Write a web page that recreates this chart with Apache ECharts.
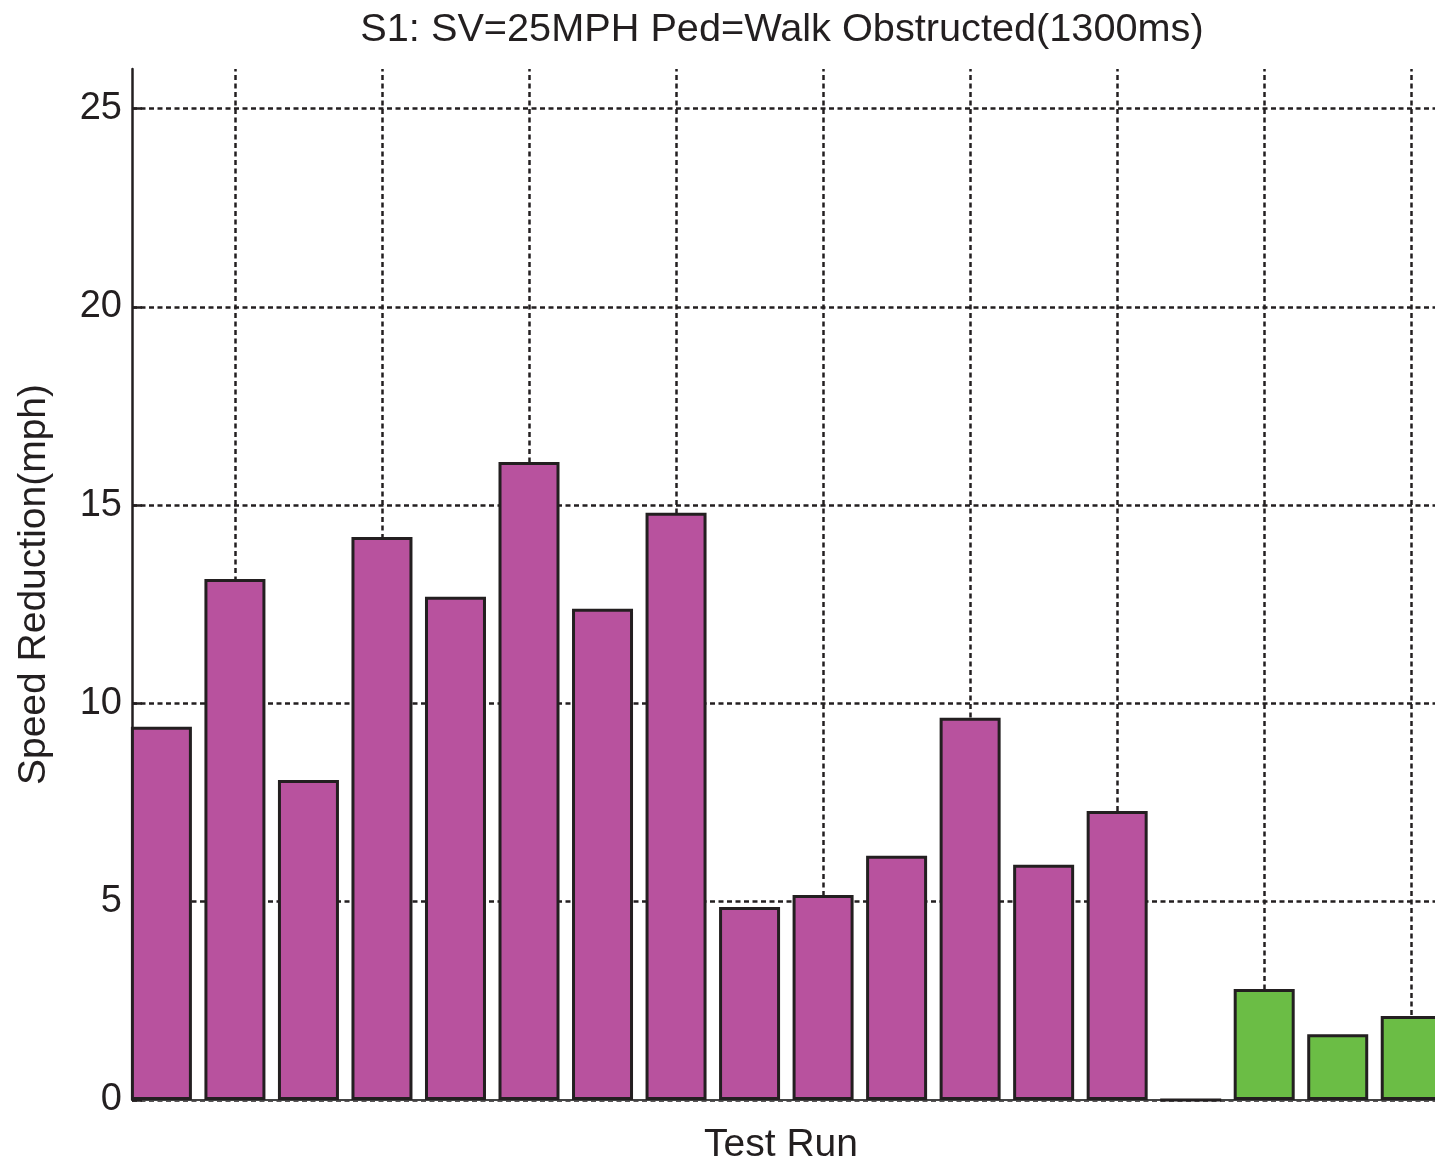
<!DOCTYPE html>
<html>
<head>
<meta charset="utf-8">
<title>S1: SV=25MPH Ped=Walk Obstructed(1300ms)</title>
<script src="https://cdn.jsdelivr.net/npm/echarts@6/dist/echarts.min.js"></script>
<style>
  html, body { margin: 0; padding: 0; background: #ffffff; }
  #chart { width: 1435px; height: 1165px; }
</style>
</head>
<body>
<div id="chart"></div>
<script>
// Test runs and the speed reduction measured in each (mph)
const runs = [1, 2, 3, 4, 5, 6, 7, 8, 9, 10, 11, 12, 13, 14, 15, 16, 17, 18];
const reduction = [9.41, 13.14, 8.07, 14.2, 12.69, 16.09, 12.39, 14.81, 4.87, 5.17, 6.16, 9.64, 5.93, 7.29, 0, 2.8, 1.66, 2.12];
// Run group: 'a' runs are drawn magenta, 'b' runs green
const runGroup = ['a', 'a', 'a', 'a', 'a', 'a', 'a', 'a', 'a', 'a', 'a', 'a', 'a', 'a', 'a', 'b', 'b', 'b'];
// Runs that carry a vertical grid line
const gridRuns = [2, 4, 6, 8, 10, 12, 14, 16, 18];
const yTicks = [0, 5, 10, 15, 20, 25];

const groupColor = { a: '#B8529E', b: '#6BBD45' };
const ink = '#231F20';
const font = '"Liberation Sans", Arial, Helvetica, sans-serif';

const barData = runs.map((r, i) => ({
  value: [r, reduction[i]],
  itemStyle: { color: groupColor[runGroup[i]] }
}));

const chart = echarts.init(document.getElementById('chart'), null, { renderer: 'canvas' });

chart.setOption({
  animation: false,
  backgroundColor: '#ffffff',
  title: {
    text: 'S1: SV=25MPH Ped=Walk Obstructed(1300ms)',
    left: 777,
    top: 5,
    textAlign: 'center',
    textStyle: { fontFamily: font, fontSize: 39.7, fontWeight: 'normal', color: ink }
  },
  grid: { left: 132, right: -13, top: 69, bottom: 65, containLabel: false, outerBoundsMode: 'none' },
  xAxis: {
    type: 'value',
    min: 0.6,
    max: 18.5,
    name: 'Test Run',
    nameLocation: 'middle',
    nameGap: 26,
    nameTextStyle: { fontFamily: font, fontSize: 39, color: ink, padding: [0, 18, 0, 0], verticalAlign: 'top' },
    axisLine: { show: true, lineStyle: { color: '#444', width: 2 } },
    axisTick: { show: false },
    axisLabel: { show: false },
    splitLine: { show: false }
  },
  yAxis: {
    type: 'value',
    min: 0,
    max: 26,
    interval: 5,
    name: 'Speed Reduction(mph)',
    nameLocation: 'middle',
    nameGap: 78,
    nameTextStyle: { fontFamily: font, fontSize: 39, color: ink },
    axisLine: { show: true, lineStyle: { color: ink, width: 2.5 } },
    axisTick: { show: true, inside: true, length: 10, lineStyle: { color: ink, width: 2.5 } },
    axisLabel: {
      fontFamily: font, fontSize: 38, color: ink, margin: 10,
      showMaxLabel: false,
      formatter: v => (yTicks.indexOf(v) >= 0 ? String(v) : '')
    },
    splitLine: { show: true, showMaxLine: false, lineStyle: { color: ink, width: 2.5, type: [5, 3.5] } }
  },
  series: [
    {
      // carrier for the vertical grid lines, kept under the bars
      type: 'line',
      data: [],
      z: 1,
      silent: true,
      markLine: {
        z: 1,
        silent: true,
        symbol: ['none', 'none'],
        label: { show: false },
        lineStyle: { color: ink, width: 2.5, type: [5, 3.5] },
        emphasis: { disabled: true },
        data: gridRuns.map(r => ({ xAxis: r }))
      }
    },
    {
      type: 'bar',
      z: 3,
      barWidth: 61,
      clip: true,
      data: barData,
      itemStyle: { borderColor: ink, borderWidth: 3 },
      emphasis: { disabled: true }
    }
  ]
});
</script>
</body>
</html>
